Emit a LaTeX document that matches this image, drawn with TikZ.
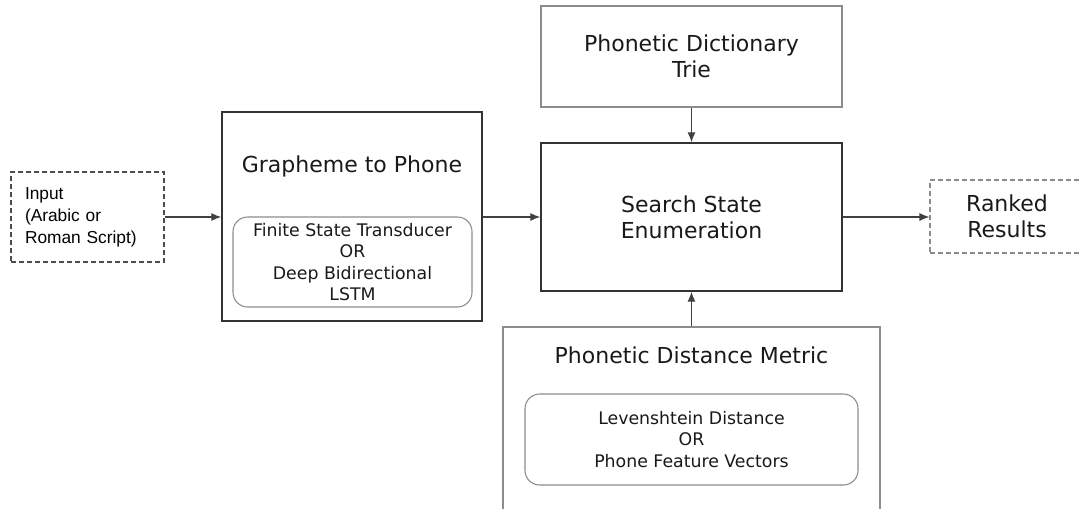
\documentclass[tikz,border=0pt]{standalone}
\usepackage{fontspec}
\setmainfont{DejaVu Sans}
\newfontfamily\inputfont{Liberation Sans}
\usetikzlibrary{arrows.meta}
\usetikzlibrary{calc}

\tikzset{
	% size in px (1px = 0.75pt)
	sz/.style 2 args={minimum width=#1*0.75pt, minimum height=#2*0.75pt},
	block/.style={draw=black!80, line width=1pt, inner sep=0pt},
	lightblock/.style={draw=black!45, line width=0.8pt, inner sep=0pt},
	ioblock/.style={draw=black!70, line width=0.8pt, dash pattern=on 3.5pt off 2.5pt, inner sep=0pt},
	heading/.style={font=\fontsize{16.5}{19.3}\selectfont, align=center, text=black!90},
	choice/.style={draw=black!45, line width=0.8pt, rounded corners=11pt, inner sep=0pt,
		align=center, font=\fontsize{13}{15.8}\selectfont, text=black!90},
	flow/.style={draw=black!75, line width=0.9pt, -{Latex[length=7.5pt,width=6pt]}}
}

\begin{document}
\begin{tikzpicture}[x=0.75pt, y=-0.75pt]
	% page: 1081 x 508 px
	\useasboundingbox (0,0) rectangle (1081,508);
	
	% input and output
	\node[ioblock, sz={153}{90}, text width=93.75pt, align=left,
		font=\inputfont\fontsize{13}{16.5}\selectfont] (input) at (87.5,217)
		{Input\\(Arabic or\\Roman Script)};
	\node[ioblock, draw=black!45, sz={154}{73}, heading] (ranked) at (1007,216.5) {Ranked\\Results};
	
	% grapheme to phone stage
	\node[block, sz={260}{209}] (g2p) at (352,216.5) {};
	\node[heading] (g2ptitle) at (352,166) {Grapheme to Phone};
	\node[choice, sz={239}{90}] (g2pmodel) at (352.5,262)
		{Finite State Transducer\\OR\\Deep Bidirectional\\LSTM};
	
	% dictionary and search
	\node[lightblock, sz={301}{101}, heading] (trie) at (691.5,56.5) {Phonetic Dictionary\\Trie};
	\node[block, sz={301}{148}, heading] (search) at (691.5,217) {Search State\\Enumeration};
	
	% distance metric stage (runs off the bottom)
	\node[lightblock, sz={377}{190}] (metric) at (691.5,422) {};
	\node[heading] (metrictitle) at (691.5,355) {Phonetic Distance Metric};
	\node[choice, sz={333}{91}] (metricmodel) at (691.5,439.5)
		{Levenshtein Distance\\OR\\Phone Feature Vectors};
	
	% connectors
	\draw[flow] (input.east) -- (input.east -| g2p.west);
	\draw[flow] (g2p.east |- search.west) -- (search.west);
	\draw[flow] (search.east) -- (search.east -| ranked.west);
	\draw[flow] (trie) -- (search);
	\draw[flow] (metric) -- (search);
\end{tikzpicture}
\end{document}
